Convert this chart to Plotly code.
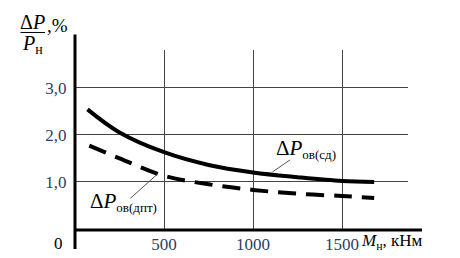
import plotly.graph_objects as go

# Data
m_sd = [70, 250, 500, 750, 1000, 1250, 1500, 1680]
p_sd = [2.54, 2.05, 1.63, 1.36, 1.20, 1.10, 1.02, 1.00]
m_dpt = [80, 250, 500, 750, 1000, 1250, 1500, 1680]
p_dpt = [1.77, 1.50, 1.13, 0.95, 0.83, 0.75, 0.70, 0.66]
x_ticks = [500, 1000, 1500]
x_ticktext = ["500", "1000", "1500"]
y_ticks = [1, 2, 3]
y_ticktext = ["1,0", "2,0", "3,0"]

W, H = 460, 258
L, R, T, B = 67, 60, 42, 32
SERIF = "Liberation Serif"


def px(x):
    return (x - L) / (W - L - R)


def py(y):
    return (H - B - y) / (H - T - B)


fig = go.Figure()
fig.add_trace(go.Scatter(x=m_sd, y=p_sd, mode="lines",
                         line=dict(color="black", width=4, shape="spline"), showlegend=False))
fig.add_trace(go.Scatter(x=m_dpt, y=p_dpt, mode="lines",
                         line=dict(color="black", width=4, shape="spline", dash="18px,10px"), showlegend=False))
# arrow heads of the axes
fig.add_trace(go.Scatter(x=[0], y=[4.19], mode="markers", cliponaxis=False, showlegend=False,
                         marker=dict(symbol="triangle-up", size=11, color="black")))
fig.add_trace(go.Scatter(x=[1971], y=[-0.02], mode="markers", cliponaxis=False, showlegend=False,
                         marker=dict(symbol="triangle-right", size=11, color="black")))

# axis lines, leader lines and the fraction bar drawn as arrow-less annotation lines
ann = []


def seg(x0, y0, x1, y1, width, color="black"):
    ann.append(dict(text="", xref="paper", yref="paper", x=px(x1), y=py(y1),
                    axref="pixel", ayref="pixel", ax=x0 - x1, ay=y0 - y1,
                    showarrow=True, arrowhead=0, arrowwidth=width, arrowcolor=color,
                    standoff=0, startstandoff=0))


seg(67, 242, 67, 26, 3)
seg(66, 227, 414, 227, 3)
seg(263, 168, 282, 155, 1, "#555")
seg(121, 195, 150, 169, 1, "#555")
seg(11, 24, 37, 24, 1.2)

labels = [
    ("0", 50, 241, 17, "center"),
    ("<i>M</i><sub>н</sub>, кНм", 351, 239, 17, "left"),
    ("Δ<i>P</i>", 24, 13, 20, "center"),
    ("<i>P</i><sub>н</sub>", 24, 36, 20, "center"),
    (",%", 37, 17, 19, "left"),
    ("Δ<i>P</i><sub><span style='font-size:13px'>ов(сд)</span></sub>", 266, 144, 21, "left"),
    ("Δ<i>P</i><sub><span style='font-size:13px'>ов(дпт)</span></sub>", 80, 198, 21, "left"),
]
for text, x, y, size, xa in labels:
    ann.append(dict(text=text, x=px(x), y=py(y), xref="paper", yref="paper", xanchor=xa, yanchor="middle",
                    showarrow=False, font=dict(family=SERIF, size=size, color="black")))

fig.update_layout(
    width=W, height=H, margin=dict(l=L, r=R, t=T, b=B),
    paper_bgcolor="white", plot_bgcolor="white",
    annotations=ann,
    xaxis=dict(range=[0, 1870], tickmode="array", tickvals=x_ticks, ticktext=x_ticktext,
               showgrid=True, gridcolor="#444", gridwidth=1, zeroline=False, showline=False,
               tickfont=dict(family=SERIF, size=17), ticklabelstandoff=3),
    yaxis=dict(range=[0, 3.8], tickmode="array", tickvals=y_ticks, ticktext=y_ticktext,
               showgrid=True, gridcolor="#444", gridwidth=1, zeroline=False, showline=False,
               ticks="outside", ticklen=4, tickcolor="white",
               tickfont=dict(family=SERIF, size=17)),
)
fig.write_html("out.html")
